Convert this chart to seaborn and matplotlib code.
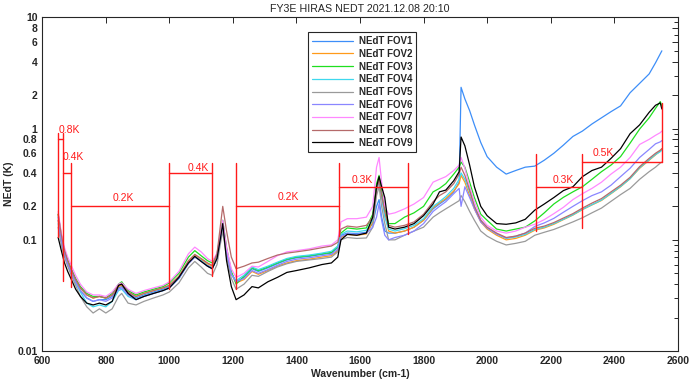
import numpy as np
import pandas as pd
import matplotlib
matplotlib.use('Agg')
import matplotlib.pyplot as plt
import seaborn as sns

# 파장수 (cm-1)
wn = [650, 660, 670, 680, 690, 705, 720, 740, 760, 780,
      800, 820, 840, 850, 870, 895, 920, 950, 980, 1000,
      1030, 1060, 1080, 1100, 1120, 1135, 1150, 1160, 1168, 1180,
      1195, 1210, 1235, 1260, 1280, 1310, 1340, 1370, 1400, 1440,
      1480, 1510, 1530, 1540, 1560, 1590, 1620, 1640, 1652, 1660,
      1668, 1678, 1690, 1710, 1740, 1770, 1800, 1830, 1850, 1870,
      1895, 1912, 1918, 1930, 1945, 1960, 1980, 2000, 2030, 2060,
      2090, 2120, 2150, 2180, 2210, 2240, 2270, 2300, 2330, 2360,
      2390, 2420, 2450, 2480, 2510, 2530, 2545, 2550]

fov1 = [.16, .105, .076, .062, .052, .042, .035, .030, .028, .029,
        .029, .031, .037, .038, .033, .030, .032, .034, .036, .038,
        .045, .062, .070, .065, .059, .056, .069, .10, .14, .08,
        .05, .042, .046, .055, .052, .056, .061, .066, .069, .071,
        .074, .076, .085, .11, .115, .114, .117, .14, .2, .23,
        .16, .12, .115, .115, .12, .13, .15, .19, .21, .23,
        .27, .33, 2.35, 1.85, 1.45, 1.08, .75, .56, .45, .39,
        .42, .45, .46, .52, .60, .71, .85, .95, 1.1, 1.25,
        1.42, 1.6, 2.1, 2.55, 3.1, 3.9, 4.7, 5.0]
fov2 = [.15, .10, .078, .063, .054, .044, .037, .032, .030, .031,
        .030, .032, .038, .039, .034, .031, .033, .035, .037, .039,
        .047, .064, .073, .067, .061, .058, .071, .10, .14, .082,
        .051, .041, .044, .052, .049, .053, .058, .062, .065, .067,
        .070, .072, .080, .105, .112, .11, .113, .145, .3, .36,
        .26, .18, .12, .115, .12, .13, .15, .195, .215, .235,
        .275, .32, .38, .33, .25, .19, .145, .125, .11, .10,
        .103, .11, .122, .128, .138, .152, .167, .187, .206, .226,
        .26, .30, .355, .44, .52, .58, .63, .66]
fov3 = [.17, .11, .08, .066, .056, .045, .038, .033, .031, .031,
        .030, .033, .040, .042, .035, .032, .034, .036, .038, .041,
        .050, .070, .080, .072, .065, .062, .074, .11, .15, .085,
        .052, .040, .047, .056, .053, .057, .062, .067, .070, .072,
        .075, .077, .087, .115, .128, .125, .128, .17, .32, .38,
        .28, .19, .14, .14, .16, .175, .20, .27, .29, .32,
        .39, .45, .50, .45, .33, .24, .17, .15, .125, .12,
        .125, .13, .148, .175, .21, .241, .27, .30, .35, .41,
        .47, .56, .74, .99, 1.25, 1.52, 1.75, 1.6]
fov4 = [.14, .095, .072, .06, .051, .041, .034, .027, .025, .026,
        .025, .028, .035, .036, .031, .029, .031, .033, .035, .037,
        .045, .062, .071, .065, .058, .055, .068, .098, .135, .078,
        .049, .043, .048, .057, .054, .058, .063, .068, .071, .073,
        .076, .079, .088, .112, .12, .118, .122, .15, .28, .33,
        .24, .16, .125, .12, .126, .135, .155, .2, .22, .245,
        .29, .35, .40, .35, .27, .20, .15, .128, .113, .103,
        .106, .112, .124, .13, .14, .153, .168, .188, .207, .228,
        .262, .302, .355, .445, .525, .585, .62, .64]
fov5 = [.13, .09, .07, .058, .049, .039, .031, .025, .022, .024,
        .022, .024, .031, .033, .027, .026, .028, .030, .032, .034,
        .041, .056, .064, .057, .050, .048, .060, .09, .12, .07,
        .045, .036, .040, .048, .047, .052, .057, .061, .064, .066,
        .068, .070, .078, .10, .105, .103, .104, .13, .25, .30,
        .20, .14, .10, .10, .11, .12, .13, .16, .175, .19,
        .21, .225, .25, .22, .18, .15, .12, .108, .097, .09,
        .093, .097, .11, .117, .124, .134, .145, .158, .175, .193,
        .222, .255, .29, .35, .41, .45, .49, .50]
fov6 = [.15, .10, .075, .061, .052, .042, .035, .030, .028, .029,
        .028, .030, .036, .037, .032, .029, .031, .033, .035, .037,
        .045, .061, .070, .064, .058, .055, .068, .10, .135, .078,
        .049, .042, .045, .053, .050, .054, .059, .064, .067, .069,
        .072, .074, .082, .107, .113, .112, .115, .13, .16, .21,
        .15, .11, .10, .105, .11, .12, .14, .18, .20, .22,
        .26, .29, .20, .30, .24, .19, .145, .128, .113, .104,
        .108, .115, .132, .142, .156, .177, .20, .225, .25, .27,
        .31, .37, .44, .55, .65, .73, .76, .78]
fov7 = [.18, .115, .085, .07, .06, .048, .040, .034, .032, .032,
        .031, .034, .040, .041, .036, .033, .035, .037, .039, .042,
        .052, .075, .086, .078, .068, .064, .076, .11, .15, .085,
        .055, .046, .050, .058, .057, .064, .072, .078, .080, .083,
        .088, .090, .10, .145, .155, .155, .16, .2, .45, .55,
        .33, .2, .17, .175, .19, .21, .24, .33, .35, .37,
        .42, .47, .55, .44, .30, .22, .16, .135, .12, .115,
        .12, .13, .138, .152, .172, .196, .23, .26, .29, .33,
        .39, .45, .55, .72, .80, .87, .92, .95]
fov8 = [.17, .11, .08, .065, .055, .044, .037, .032, .030, .031,
        .030, .032, .039, .040, .034, .031, .033, .035, .037, .039,
        .047, .065, .074, .068, .062, .059, .075, .13, .20, .12,
        .07, .055, .058, .062, .063, .068, .073, .076, .078, .081,
        .085, .088, .095, .125, .133, .13, .135, .16, .28, .34,
        .25, .18, .135, .13, .135, .145, .17, .22, .25, .27,
        .32, .39, .45, .38, .28, .20, .15, .13, .115, .105,
        .108, .115, .127, .133, .143, .157, .172, .193, .214, .235,
        .27, .31, .365, .455, .54, .60, .64, .66]
fov9 = [.105, .08, .062, .052, .045, .036, .031, .027, .026, .027,
        .026, .028, .039, .040, .033, .029, .031, .033, .035, .037,
        .046, .062, .071, .064, .058, .055, .068, .10, .14, .065,
        .038, .029, .032, .038, .037, .042, .046, .051, .053, .056,
        .060, .062, .070, .10, .112, .11, .115, .16, .3, .37,
        .3, .24, .13, .125, .13, .14, .165, .21, .27, .28,
        .34, .41, .84, .70, .47, .30, .20, .165, .14, .138,
        .142, .153, .185, .21, .24, .277, .30, .37, .42, .45,
        .54, .66, .90, 1.08, 1.40, 1.62, 1.70, 1.50]

names = ['NEdT FOV1', 'NEdT FOV2', 'NEdT FOV3', 'NEdT FOV4', 'NEdT FOV5',
         'NEdT FOV6', 'NEdT FOV7', 'NEdT FOV8', 'NEdT FOV9']
colors = ['#3d8ef8', '#ff9a1a', '#1fdf1f', '#3ed8ee', '#9a9a9a',
          '#8a86ff', '#ff88ff', '#b56a6a', '#000000']

# 빨간 구간 표시 (밴드별 기준값)
bar_x0 = [650, 665, 690, 1000, 1210, 1535, 2155, 2300]
bar_x1 = [665, 690, 1000, 1135, 1535, 1750, 2300, 2550]
bar_y = [0.8, 0.4, 0.2, 0.4, 0.2, 0.3, 0.3, 0.5]
vx = [650, 665, 690, 1000, 1135, 1210, 1535, 1750, 2155, 2300, 2550]
vlo = [0.106, 0.043, 0.038, 0.036, 0.047, 0.036, 0.109, 0.114, 0.12, 0.129, 0.5]
vhi = [0.91, 0.91, 0.49, 0.49, 0.49, 0.49, 0.49, 0.49, 0.59, 0.59, 1.69]
lab_txt = ['0.8K', '0.4K', '0.2K', '0.4K', '0.2K', '0.3K', '0.3K', '0.5K']
lab_x = [650, 665, 854, 1090, 1374, 1607, 2241, 2367]
lab_y = [0.98, 0.55, 0.24, 0.44, 0.244, 0.348, 0.348, 0.60]
lab_ha = ['left', 'left', 'center', 'center', 'center', 'center', 'center', 'center']

sns.set_style('white')
plt.rcParams['font.family'] = ['Liberation Sans', 'DejaVu Sans']

df = pd.DataFrame({
    'wn': wn * 9,
    'nedt': fov1 + fov2 + fov3 + fov4 + fov5 + fov6 + fov7 + fov8 + fov9,
    'fov': [n for n in names for _ in wn],
})

fig = plt.figure(figsize=(6.93, 3.85), dpi=100)
ax = fig.add_axes([0.061, 0.088, 0.917, 0.867])

sns.lineplot(data=df, x='wn', y='nedt', hue='fov', hue_order=names,
             palette=colors, linewidth=0.9, estimator=None, ax=ax)

red = '#ff1a1a'
for x0, x1, y in zip(bar_x0, bar_x1, bar_y):
    ax.plot([x0, x1], [y, y], color=red, lw=1)
for x, lo, hi in zip(vx, vlo, vhi):
    ax.plot([x, x], [lo, hi], color=red, lw=1)
for t, x, y, ha in zip(lab_txt, lab_x, lab_y, lab_ha):
    ax.text(x, y, t, color=red, fontsize=7.5, ha=ha, va='center')

ax.set_yscale('log')
ax.set_xlim(600, 2600)
ax.set_ylim(0.01, 10)
ax.set_xticks(range(600, 2601, 200))
yt = [0.01, 0.1, 0.2, 0.4, 0.6, 0.8, 1, 2, 4, 6, 8, 10]
ax.set_yticks(yt)
ax.set_yticklabels(['0.01', '0.1', '0.2', '0.4', '0.6', '0.8', '1', '2', '4', '6', '8', '10'])
ax.set_yticks([0.02, 0.03, 0.04, 0.05, 0.06, 0.07, 0.08, 0.09,
               0.3, 0.5, 0.7, 0.9, 3, 5, 7, 9], minor=True)
ax.yaxis.set_minor_formatter(matplotlib.ticker.NullFormatter())
ax.tick_params(which='both', direction='in', top=True, right=True,
               labelsize=7.5, colors='#262626', width=0.7)
ax.tick_params(which='major', length=4)
ax.tick_params(which='minor', length=3)
for lab in ax.get_xticklabels() + ax.get_yticklabels():
    lab.set_fontweight('bold')
for s in ax.spines.values():
    s.set_color('#262626')
    s.set_linewidth(0.8)

ax.set_xlabel('Wavenumber (cm-1)', fontsize=7.5, fontweight='bold', labelpad=2)
ax.set_ylabel('NEdT (K)', fontsize=7.5, fontweight='bold', labelpad=2)
ax.set_title('FY3E HIRAS NEDT 2021.12.08 20:10', fontsize=7.7, pad=4)

handles, labels = ax.get_legend_handles_labels()
leg = ax.legend(handles, labels, loc='upper center', bbox_to_anchor=(0.503, 0.97),
                prop={'weight': 'bold', 'size': 7}, frameon=True, fancybox=False,
                edgecolor='#262626', framealpha=1, handlelength=4.2,
                labelspacing=0.28, borderpad=0.4, handletextpad=0.6)
leg.get_frame().set_linewidth(0.8)

fig.savefig('out.png', dpi=100)
